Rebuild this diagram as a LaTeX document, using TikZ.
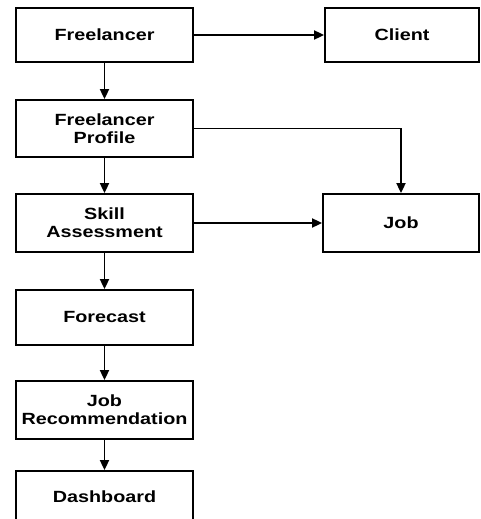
\documentclass[tikz,border=0pt]{standalone}
\usepackage{fontspec}
\setmainfont{Liberation Sans}[FakeStretch=1.22]
\usetikzlibrary{arrows.meta}
\begin{document}
\begin{tikzpicture}[x=1pt,y=-1pt,
        box/.style={rectangle,draw,line width=1.8pt,fill=white,align=center,
            font=\fontsize{16.2}{18}\selectfont\bfseries,inner sep=0pt},
        flow/.style={-{Triangle[length=10pt,width=9pt]},line width=1.8pt}]
        \useasboundingbox[fill=white] (0,0) rectangle (480,519);
        \node at (104.5,35) [box,minimum width=177pt,minimum height=54pt] (free) {Freelancer};
        \node at (402,35) [box,minimum width=154pt,minimum height=54pt] (client) {Client};
        \node at (104.5,128.5) [box,minimum width=177pt,minimum height=57pt] (prof) {Freelancer\\Profile};
        \node at (104.5,223) [box,minimum width=177pt,minimum height=58pt] (skill) {Skill\\Assessment};
        \node at (401,223) [box,minimum width=156pt,minimum height=58pt] (job) {Job};
        \node at (104.5,317.5) [box,minimum width=177pt,minimum height=55pt] (fore) {Forecast};
        \node at (104.5,410) [box,minimum width=177pt,minimum height=58pt] (rec) {Job\\Recommendation};
        \node at (104.5,497) [box,minimum width=177pt,minimum height=52pt] (dash) {Dashboard};
        \draw[flow] (free) -- (client);
        \draw[flow] (free) -- (prof);
        \draw[flow] (prof.east) -| (job.north);
        \draw[flow] (prof) -- (skill);
        \draw[flow] (skill) -- (job);
        \draw[flow] (skill) -- (fore);
        \draw[flow] (fore) -- (rec);
        \draw[flow] (rec) -- (dash);
\end{tikzpicture}
\end{document}
